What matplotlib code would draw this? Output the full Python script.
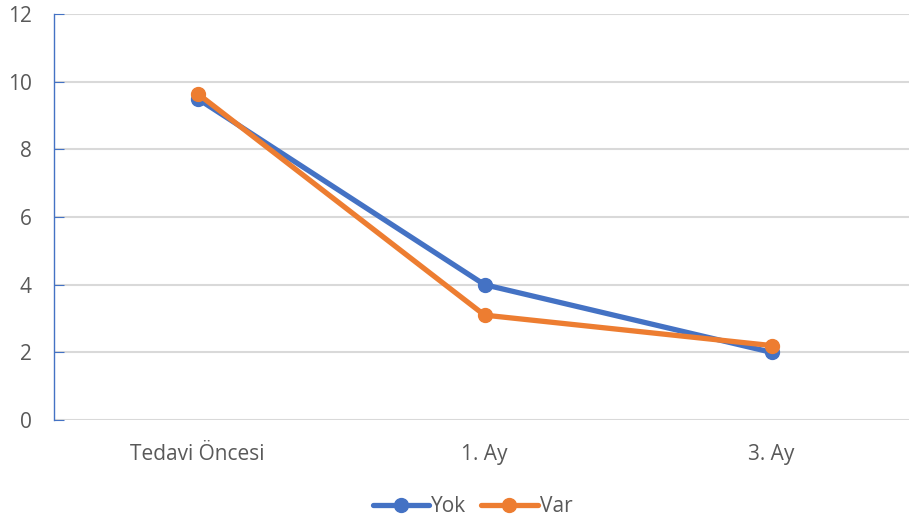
import matplotlib
matplotlib.use("Agg")
import matplotlib.pyplot as plt

# Data
categories = ["Tedavi Öncesi", "1. Ay", "3. Ay"]
yok = [9.5, 4.0, 2.0]
var = [9.65, 3.1, 2.2]
yticks = [0, 2, 4, 6, 8, 10, 12]

plt.rcParams['font.family'] = ['Open Sans', 'DejaVu Sans']
fs = 15

fig = plt.figure(figsize=(9.09, 5.21), dpi=100)
ax = fig.add_axes([54/909, 1-420/521, 1-54/909, (420-14)/521])

x = list(range(len(categories)))
ax.plot(x, yok, color="#4472C4", lw=3.8, marker="o", ms=10, label="Yok",
        solid_capstyle="round", zorder=3)
ax.plot(x, var, color="#ED7D31", lw=3.8, marker="o", ms=10, label="Var",
        solid_capstyle="round", zorder=4)

ax.set_ylim(0, 12)
ax.set_xlim(-0.5, -0.5 + (909-54)/287)
ax.set_yticks(yticks)
ax.set_xticks(x)
ax.set_xticklabels(categories)

# Grid and spines
ax.grid(axis="y", color="#D9D9D9", lw=1.5)
ax.set_axisbelow(True)
for s in ["top", "right", "bottom"]:
    ax.spines[s].set_visible(False)
ax.spines["left"].set_color("#4472C4")
ax.spines["left"].set_linewidth(1.0)
ax.tick_params(axis="y", direction="in", length=7, color="#4472C4",
               labelcolor="#595959", labelsize=fs, pad=16)
ax.tick_params(axis="x", length=0, labelcolor="#595959", labelsize=fs, pad=17)

leg = ax.legend(loc="center", bbox_to_anchor=(0.5 - 9/855, -0.213), ncol=2,
                frameon=False, fontsize=fs, handlelength=2.7,
                columnspacing=0.72, handletextpad=0.1, borderaxespad=0)
for t in leg.get_texts():
    t.set_color("#595959")

fig.savefig("out.png", dpi=100)
